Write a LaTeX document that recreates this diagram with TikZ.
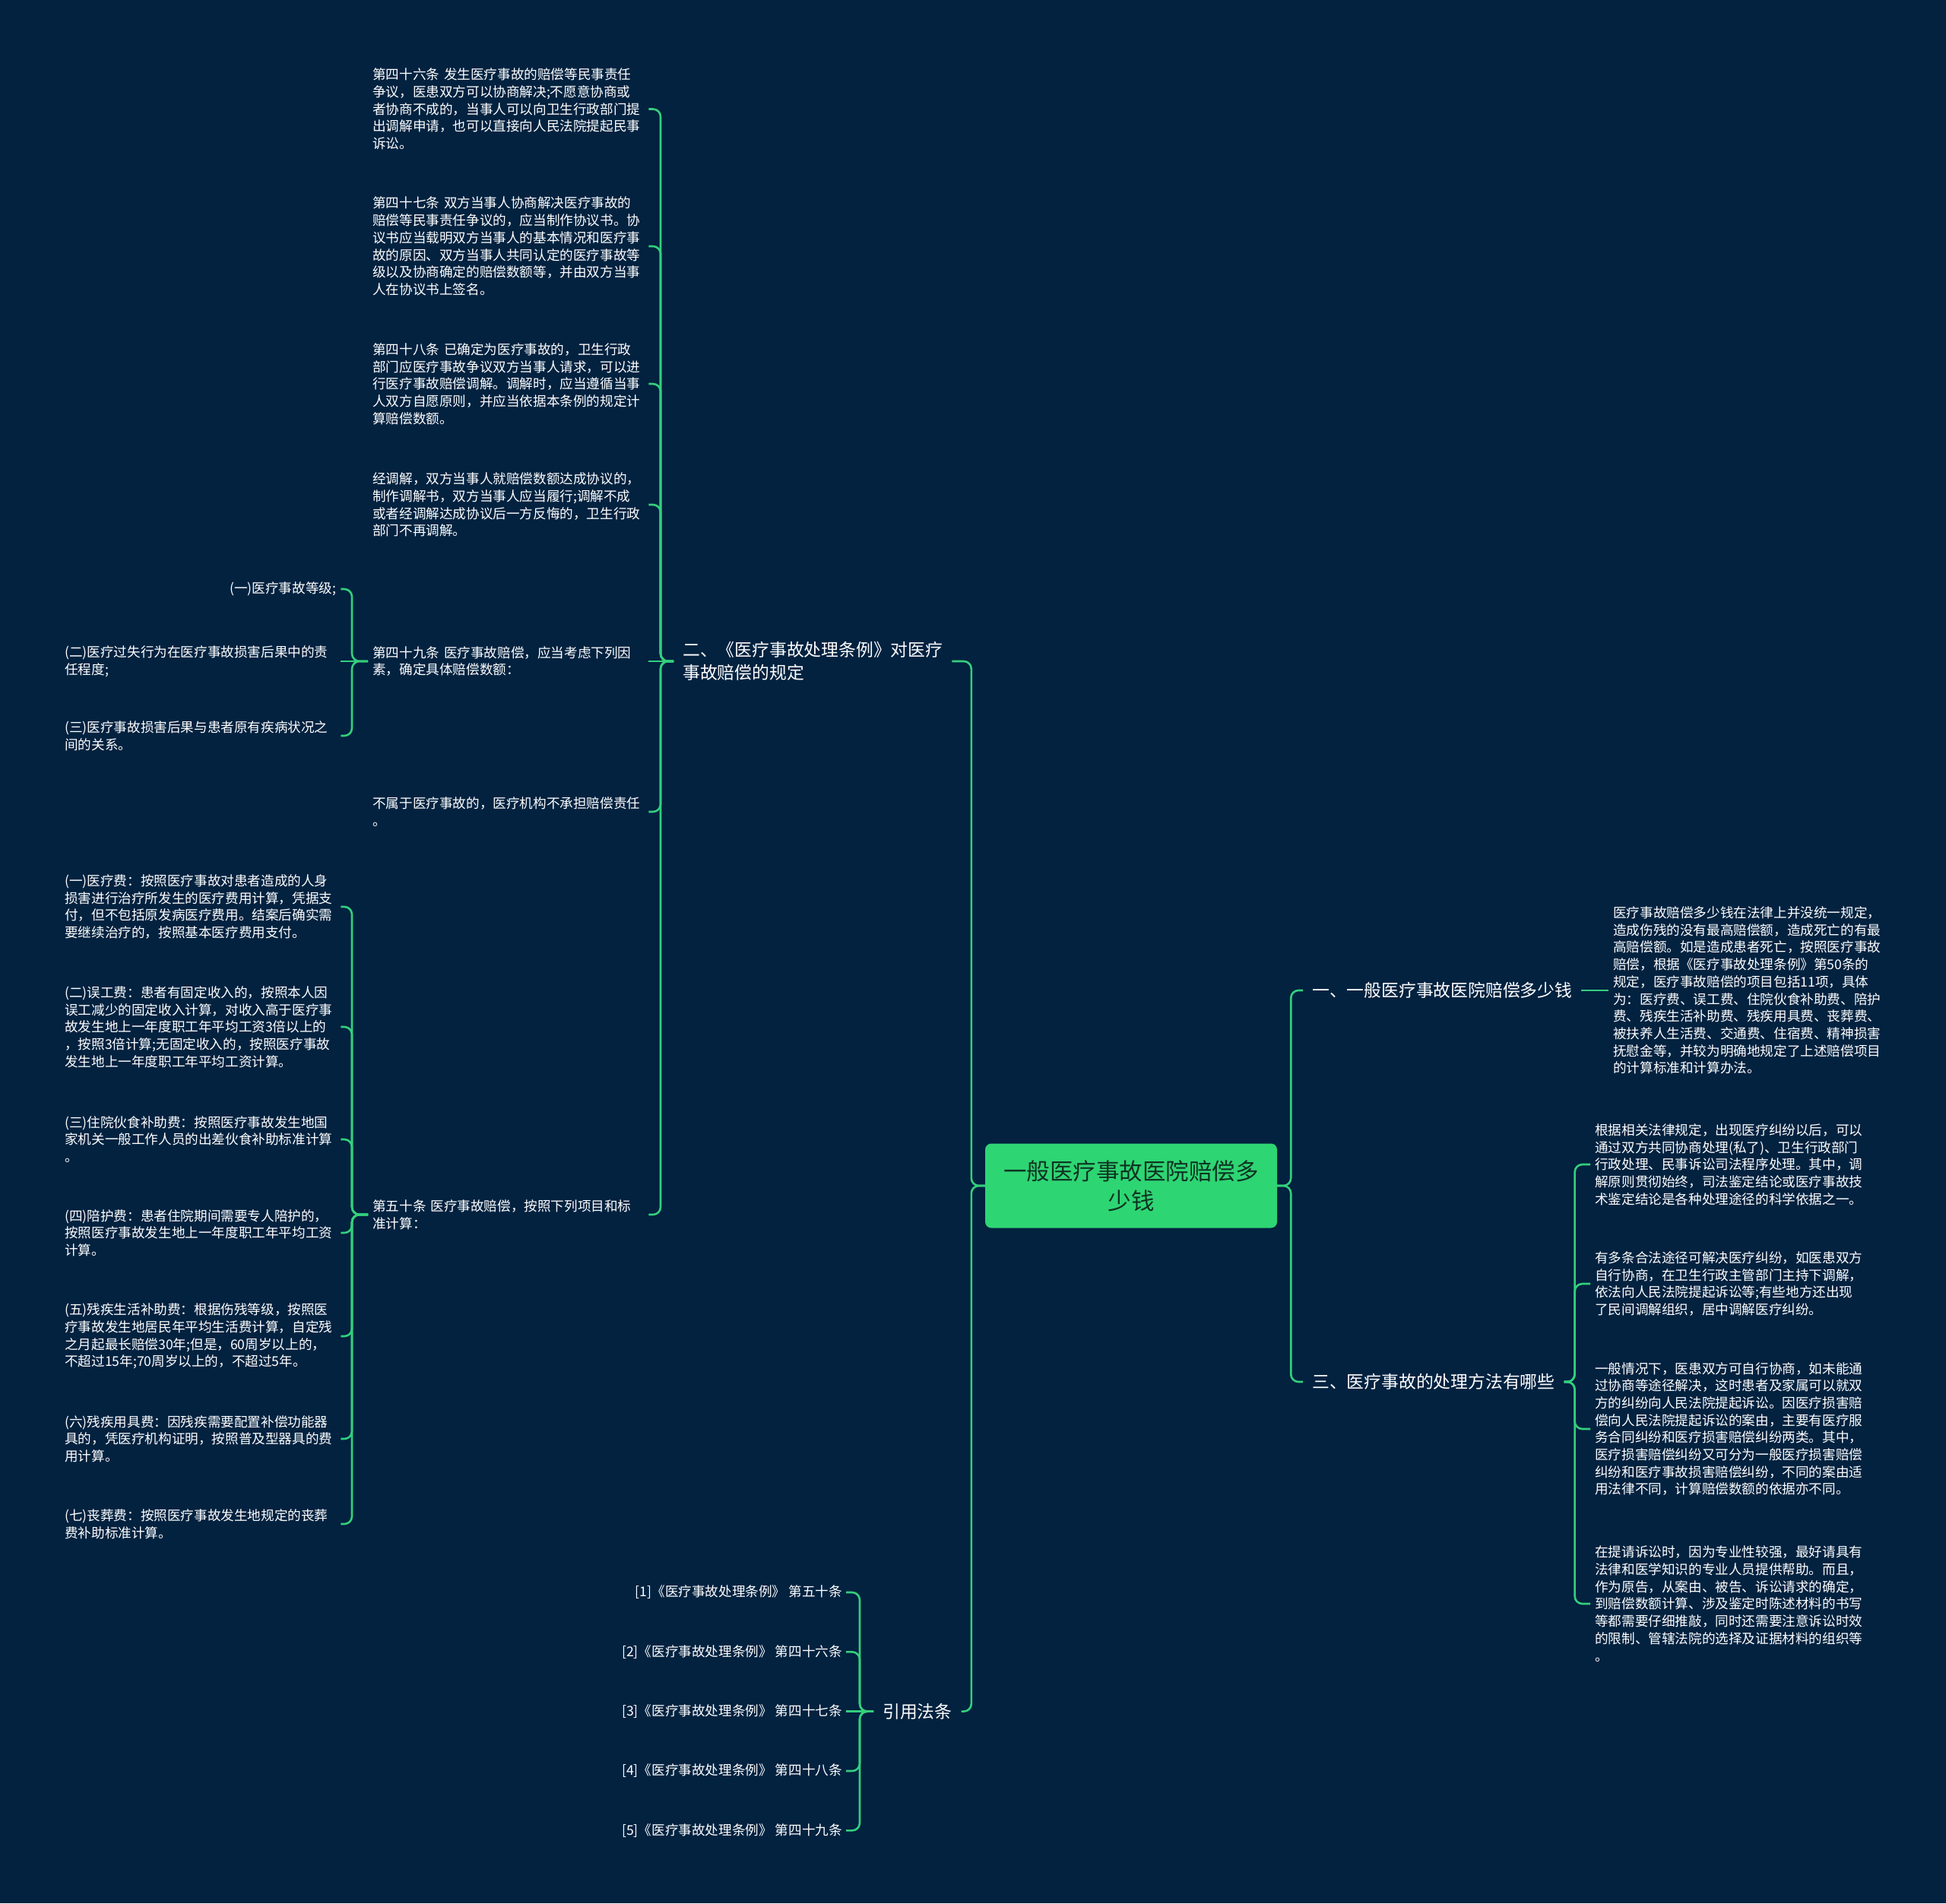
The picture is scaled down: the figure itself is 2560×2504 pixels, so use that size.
\documentclass[tikz,border=0pt]{standalone}
\usepackage{fontspec}
\setmainfont{Noto Sans CJK SC}
\definecolor{bg}{HTML}{022240}
\definecolor{ln}{HTML}{34CF7C}
\definecolor{boxg}{HTML}{2ED573}
\definecolor{ctext}{HTML}{0E3322}
\begin{document}
\begin{tikzpicture}[x=1pt,y=-1pt,
  txt/.style={text=white, font=\fontsize{17.6}{22.7}\selectfont, inner xsep=6pt, inner ysep=4pt, align=left, text width=357pt},
  lbl/.style={text=white, font=\fontsize{22.8}{30}\selectfont, inner xsep=12pt, inner ysep=4pt, align=left},
  citebox/.style={text=white, font=\fontsize{17.6}{22.7}\selectfont, inner xsep=5pt, inner ysep=4pt},
  conn/.style={draw=ln, line width=2.6pt, rounded corners=10pt},
  straightconn/.style={draw=ln, line width=2.6pt},
]
\fill[bg] (0,0) rectangle (2560,2504);
\useasboundingbox (0,0) rectangle (2560,2504);

% central node
\node[fill=boxg, rounded corners=8pt, minimum width=384pt, minimum height=111pt, text=ctext,
  font=\fontsize{30.5}{39}\selectfont, align=center] (center) at (1488,1560)
  {一般医疗事故医院赔偿多\\少钱};

% first level labels
\node[lbl, anchor=west] (er) at (886,870) {二、《医疗事故处理条例》对医疗\\事故赔偿的规定};
\node[lbl, anchor=west] (yyfl) at (1149,2251.6) {引用法条};
\node[lbl, anchor=west] (yi) at (1714,1303) {一、一般医疗事故医院赔偿多少钱};
\node[lbl, anchor=west] (san) at (1714,1818) {三、医疗事故的处理方法有哪些};

% children of er
\node[txt, anchor=west] (c46) at (484,143.5) {第四十六条 发生医疗事故的赔偿等民事责任\\争议，医患双方可以协商解决;不愿意协商或\\者协商不成的，当事人可以向卫生行政部门提\\出调解申请，也可以直接向人民法院提起民事\\诉讼。};
\node[txt, anchor=west] (c47) at (484,324) {第四十七条 双方当事人协商解决医疗事故的\\赔偿等民事责任争议的，应当制作协议书。协\\议书应当载明双方当事人的基本情况和医疗事\\故的原因、双方当事人共同认定的医疗事故等\\级以及协商确定的赔偿数额等，并由双方当事\\人在协议书上签名。};
\node[txt, anchor=west] (c48) at (484,505) {第四十八条 已确定为医疗事故的，卫生行政\\部门应医疗事故争议双方当事人请求，可以进\\行医疗事故赔偿调解。调解时，应当遵循当事\\人双方自愿原则，并应当依据本条例的规定计\\算赔偿数额。};
\node[txt, anchor=west] (cadj) at (484,664) {经调解，双方当事人就赔偿数额达成协议的，\\制作调解书，双方当事人应当履行;调解不成\\或者经调解达成协议后一方反悔的，卫生行政\\部门不再调解。};
\node[txt, anchor=west] (c49) at (484,870) {第四十九条 医疗事故赔偿，应当考虑下列因\\素，确定具体赔偿数额：};
\node[txt, anchor=west] (cno) at (484,1068) {不属于医疗事故的，医疗机构不承担赔偿责任\\。};
\node[txt, anchor=west] (c50) at (484,1598) {第五十条 医疗事故赔偿，按照下列项目和标\\准计算：};

% children of c49
\node[txt, anchor=west, align=right] (f1) at (79,775) {(一)医疗事故等级;};
\node[txt, anchor=west] (f2) at (79,870) {(二)医疗过失行为在医疗事故损害后果中的责\\任程度;};
\node[txt, anchor=west] (f3) at (79,968) {(三)医疗事故损害后果与患者原有疾病状况之\\间的关系。};

% children of c50
\node[txt, anchor=west] (p1) at (79,1193) {(一)医疗费：按照医疗事故对患者造成的人身\\损害进行治疗所发生的医疗费用计算，凭据支\\付，但不包括原发病医疗费用。结案后确实需\\要继续治疗的，按照基本医疗费用支付。};
\node[txt, anchor=west] (p2) at (79,1351) {(二)误工费：患者有固定收入的，按照本人因\\误工减少的固定收入计算，对收入高于医疗事\\故发生地上一年度职工年平均工资3倍以上的\\，按照3倍计算;无固定收入的，按照医疗事故\\发生地上一年度职工年平均工资计算。};
\node[txt, anchor=west] (p3) at (79,1499) {(三)住院伙食补助费：按照医疗事故发生地国\\家机关一般工作人员的出差伙食补助标准计算\\。};
\node[txt, anchor=west] (p4) at (79,1622) {(四)陪护费：患者住院期间需要专人陪护的，\\按照医疗事故发生地上一年度职工年平均工资\\计算。};
\node[txt, anchor=west] (p5) at (79,1758) {(五)残疾生活补助费：根据伤残等级，按照医\\疗事故发生地居民年平均生活费计算，自定残\\之月起最长赔偿30年;但是，60周岁以上的，\\不超过15年;70周岁以上的，不超过5年。};
\node[txt, anchor=west] (p6) at (79,1893) {(六)残疾用具费：因残疾需要配置补偿功能器\\具的，凭医疗机构证明，按照普及型器具的费\\用计算。};
\node[txt, anchor=west] (p7) at (79,2005) {(七)丧葬费：按照医疗事故发生地规定的丧葬\\费补助标准计算。};

% citations
\node[citebox, anchor=east] (k1) at (1113,2095) {[1]《医疗事故处理条例》 第五十条};
\node[citebox, anchor=east] (k2) at (1113,2173.3) {[2]《医疗事故处理条例》 第四十六条};
\node[citebox, anchor=east] (k3) at (1113,2251.6) {[3]《医疗事故处理条例》 第四十七条};
\node[citebox, anchor=east] (k4) at (1113,2330) {[4]《医疗事故处理条例》 第四十八条};
\node[citebox, anchor=east] (k5) at (1113,2408.3) {[5]《医疗事故处理条例》 第四十九条};

% right children
\node[txt, anchor=west] (r1) at (2116,1303) {医疗事故赔偿多少钱在法律上并没统一规定，\\造成伤残的没有最高赔偿额，造成死亡的有最\\高赔偿额。如是造成患者死亡，按照医疗事故\\赔偿，根据《医疗事故处理条例》第50条的\\规定，医疗事故赔偿的项目包括11项，具体\\为：医疗费、误工费、住院伙食补助费、陪护\\费、残疾生活补助费、残疾用具费、丧葬费、\\被扶养人生活费、交通费、住宿费、精神损害\\抚慰金等，并较为明确地规定了上述赔偿项目\\的计算标准和计算办法。};
\node[txt, anchor=west] (s1) at (2092,1532) {根据相关法律规定，出现医疗纠纷以后，可以\\通过双方共同协商处理(私了)、卫生行政部门\\行政处理、民事诉讼司法程序处理。其中，调\\解原则贯彻始终，司法鉴定结论或医疗事故技\\术鉴定结论是各种处理途径的科学依据之一。};
\node[txt, anchor=west] (s2) at (2092,1689) {有多条合法途径可解决医疗纠纷，如医患双方\\自行协商，在卫生行政主管部门主持下调解，\\依法向人民法院提起诉讼等;有些地方还出现\\了民间调解组织，居中调解医疗纠纷。};
\node[txt, anchor=west] (s3) at (2092,1880) {一般情况下，医患双方可自行协商，如未能通\\过协商等途径解决，这时患者及家属可以就双\\方的纠纷向人民法院提起诉讼。因医疗损害赔\\偿向人民法院提起诉讼的案由，主要有医疗服\\务合同纠纷和医疗损害赔偿纠纷两类。其中，\\医疗损害赔偿纠纷又可分为一般医疗损害赔偿\\纠纷和医疗事故损害赔偿纠纷，不同的案由适\\用法律不同，计算赔偿数额的依据亦不同。};
\node[txt, anchor=west] (s4) at (2092,2110) {在提请诉讼时，因为专业性较强，最好请具有\\法律和医学知识的专业人员提供帮助。而且，\\作为原告，从案由、被告、诉讼请求的确定，\\到赔偿数额计算、涉及鉴定时陈述材料的书写\\等都需要仔细推敲，同时还需要注意诉讼时效\\的限制、管辖法院的选择及证据材料的组织等\\。};

% connectors
\draw[conn] (center.west) -- ++(-18,0) |- (er.east);
\draw[conn] (center.west) -- ++(-18,0) |- (yyfl.east);
\draw[conn] (center.east) -- ++(18,0) |- (yi.west);
\draw[conn] (center.east) -- ++(18,0) |- (san.west);
\draw[straightconn] (yi.east) -- (r1.west);
\foreach \c in {s1,s2,s3,s4} \draw[conn] (san.east) -- ++(14,0) |- (\c.west);
\foreach \c in {c46,c47,c48,cadj,cno,c50} \draw[conn] (er.west) -- ++(-17,0) |- (\c.east);
\draw[straightconn] (er.west) -- (c49.east);
\foreach \c in {f1,f3} \draw[conn] (c49.west) -- ++(-21,0) |- (\c.east);
\draw[straightconn] (c49.west) -- (f2.east);
\foreach \c in {p1,p2,p3,p4,p5,p6,p7} \draw[conn] (c50.west) -- ++(-21,0) |- (\c.east);
\foreach \c in {k1,k2,k4,k5} \draw[conn] (yyfl.west) -- ++(-18,0) |- (\c.east);
\draw[straightconn] (yyfl.west) -- (k3.east);
\end{tikzpicture}
\end{document}
